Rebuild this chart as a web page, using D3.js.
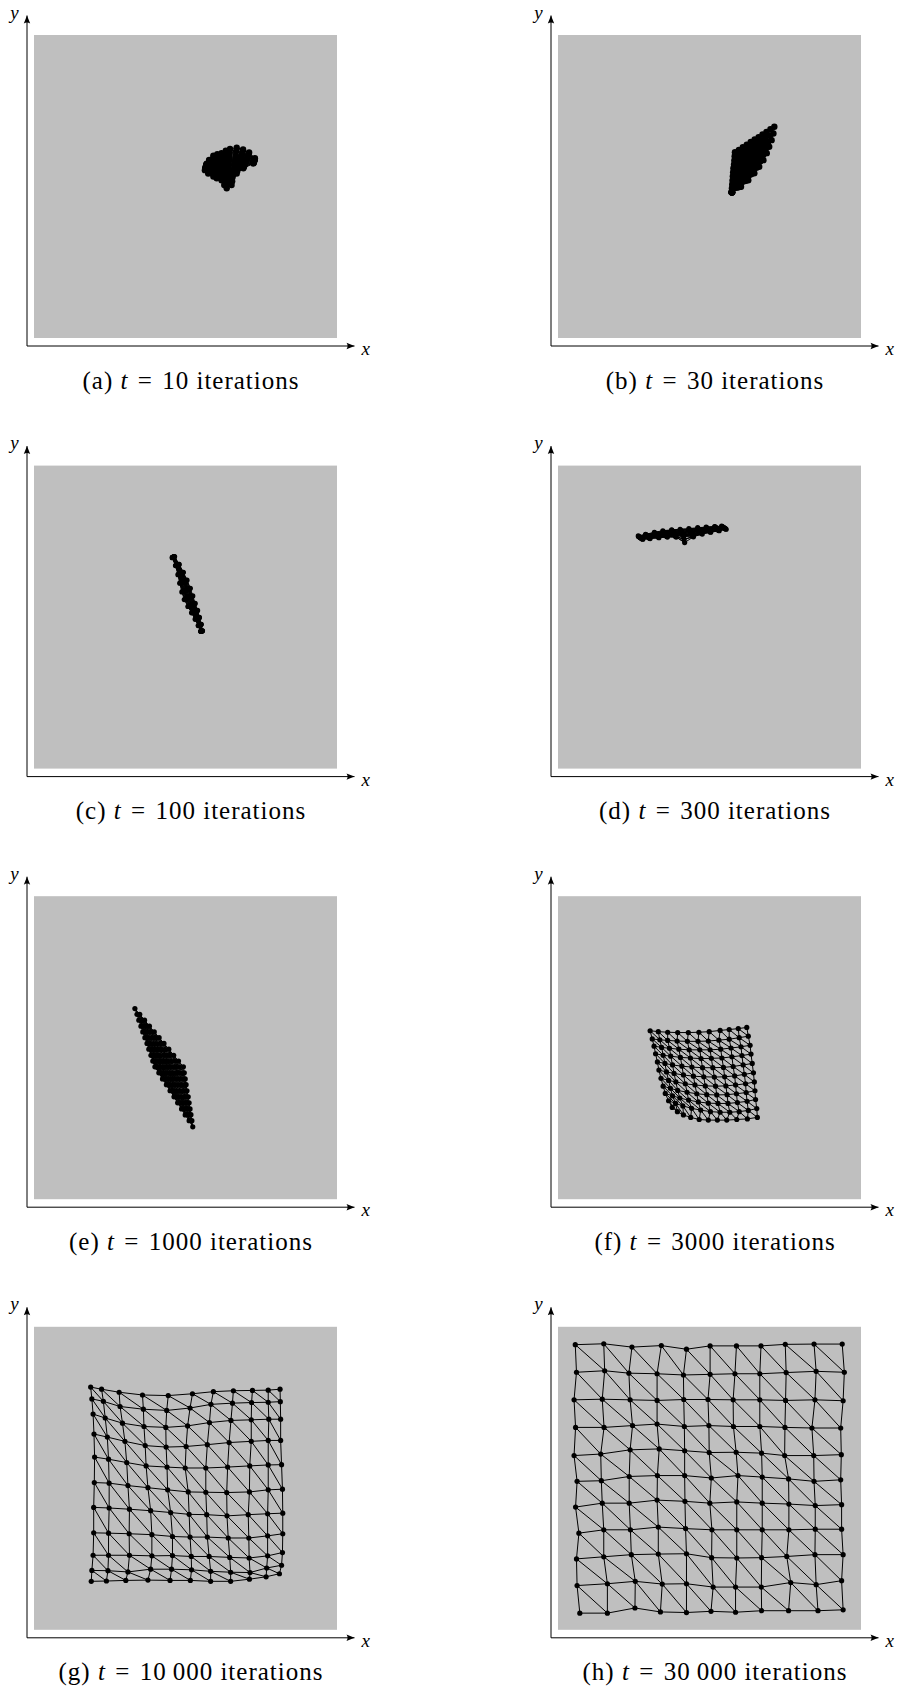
<!DOCTYPE html>
<html>
<head>
<meta charset="utf-8">
<script src="https://cdn.jsdelivr.net/npm/d3@7"></script>
<style>
  body { margin: 0; background: #fff; }
</style>
</head>
<body>
<svg id="fig" width="900" height="1693"></svg>
<script>
// Weight vectors of the 11 x 11 map after t iterations, in input-space units (0-100 on each axis).
// One entry per map row (top to bottom); each row is u0,v0, u1,v1, ... for its 11 nodes.
const nodesA = [
  [57.0,57.5, 57.8,58.8, 59.2,60.2, 60.5,60.7, 61.9,61.0, 63.3,61.8, 64.7,62.4, 66.9,62.8, 69.0,62.2, 71.0,61.2, 72.9,59.3],
  [56.9,57.3, 57.8,58.4, 59.2,59.5, 60.5,59.9, 61.9,60.1, 63.3,60.7, 64.6,61.1, 66.7,61.6, 68.8,61.4, 70.8,60.7, 72.9,59.1],
  [56.9,57.1, 57.7,57.9, 59.2,58.8, 60.5,59.1, 61.9,59.2, 63.2,59.5, 64.5,59.8, 66.6,60.3, 68.6,60.6, 70.6,60.2, 72.8,59.0],
  [56.8,56.9, 57.7,57.5, 59.2,58.1, 60.4,58.3, 61.9,58.3, 63.2,58.4, 64.4,58.5, 66.4,59.1, 68.4,59.8, 70.4,59.6, 72.8,58.8],
  [56.8,56.7, 57.7,57.0, 59.2,57.4, 60.4,57.5, 61.9,57.4, 63.1,57.3, 64.3,57.2, 66.2,57.9, 68.2,59.0, 70.2,59.1, 72.7,58.6],
  [56.7,56.5, 57.7,56.6, 59.2,56.8, 60.4,56.7, 61.9,56.6, 63.1,56.2, 64.2,55.9, 66.1,56.7, 68.0,58.3, 70.1,58.6, 72.7,58.5],
  [56.6,56.2, 57.6,56.1, 59.2,56.1, 60.4,55.9, 61.9,55.7, 63.0,55.0, 64.0,54.6, 65.9,55.4, 67.7,57.5, 69.9,58.1, 72.6,58.3],
  [56.6,56.0, 57.6,55.7, 59.2,55.4, 60.4,55.1, 61.9,54.8, 63.0,53.9, 63.9,53.3, 65.7,54.2, 67.5,56.7, 69.7,57.6, 72.6,58.1],
  [56.5,55.8, 57.6,55.2, 59.2,54.7, 60.3,54.3, 61.9,53.9, 62.9,52.8, 63.8,52.0, 65.5,53.0, 67.3,55.9, 69.5,57.1, 72.5,57.9],
  [56.5,55.6, 57.5,54.8, 59.2,54.0, 60.3,53.5, 61.9,53.0, 62.9,51.6, 63.7,50.7, 65.4,51.7, 67.1,55.1, 69.3,56.5, 72.5,57.8],
  [56.4,55.4, 57.5,54.3, 59.2,53.3, 60.3,52.7, 61.9,52.1, 62.8,50.5, 63.6,49.4, 65.2,50.5, 66.9,54.3, 69.1,56.0, 72.4,57.6]
];
const nodesB = [
  [58.4,61.3, 59.7,62.1, 61.0,63.0, 62.3,63.8, 63.6,64.7, 64.9,65.5, 66.2,66.3, 67.5,67.2, 68.8,68.0, 70.1,68.9, 71.4,69.7],
  [58.3,60.0, 59.6,60.8, 60.9,61.5, 62.1,62.3, 63.4,63.0, 64.7,63.8, 66.0,64.5, 67.3,65.3, 68.5,66.0, 69.8,66.8, 71.1,67.5],
  [58.2,58.6, 59.4,59.3, 60.7,59.9, 61.9,60.6, 63.1,61.3, 64.4,62.0, 65.6,62.6, 66.8,63.3, 68.0,64.0, 69.3,64.6, 70.5,65.3],
  [58.1,57.3, 59.3,57.9, 60.4,58.5, 61.6,59.0, 62.7,59.6, 63.9,60.2, 65.1,60.8, 66.2,61.4, 67.4,61.9, 68.5,62.5, 69.7,63.1],
  [57.9,56.0, 59.0,56.5, 60.1,57.0, 61.2,57.5, 62.3,58.0, 63.4,58.5, 64.5,59.0, 65.6,59.5, 66.7,60.0, 67.8,60.5, 68.9,61.0],
  [57.8,54.7, 58.8,55.1, 59.8,55.5, 60.8,55.9, 61.8,56.3, 62.8,56.7, 63.8,57.1, 64.8,57.5, 65.8,57.9, 66.8,58.3, 67.8,58.7],
  [57.7,53.4, 58.6,53.7, 59.4,54.0, 60.3,54.3, 61.2,54.6, 62.1,55.0, 62.9,55.3, 63.8,55.6, 64.7,55.9, 65.5,56.2, 66.4,56.5],
  [57.6,52.0, 58.3,52.2, 59.0,52.5, 59.8,52.7, 60.5,53.0, 61.2,53.2, 61.9,53.4, 62.6,53.7, 63.4,53.9, 64.1,54.2, 64.8,54.4],
  [57.5,50.7, 58.0,50.8, 58.6,51.0, 59.1,51.1, 59.6,51.3, 60.2,51.4, 60.7,51.5, 61.2,51.7, 61.7,51.8, 62.3,52.0, 62.8,52.1],
  [57.4,49.4, 57.7,49.5, 58.0,49.5, 58.3,49.6, 58.6,49.6, 58.9,49.7, 59.2,49.7, 59.5,49.8, 59.8,49.8, 60.1,49.9, 60.4,49.9],
  [57.3,48.1, 57.3,48.1, 57.3,48.1, 57.4,48.1, 57.4,48.1, 57.4,48.1, 57.4,48.1, 57.4,48.1, 57.5,48.1, 57.5,48.1, 57.5,48.1]
];
const nodesC = [
  [45.6,69.6, 46.7,67.0, 47.5,64.0, 48.1,61.2, 48.8,58.3, 49.6,55.8, 50.8,53.5, 52.0,51.4, 53.2,49.3, 54.2,47.2, 55.0,45.3],
  [45.7,69.7, 46.8,67.0, 47.7,64.1, 48.3,61.3, 49.1,58.5, 49.9,55.9, 51.0,53.6, 52.2,51.5, 53.3,49.4, 54.3,47.2, 55.1,45.3],
  [45.8,69.7, 46.9,67.1, 47.8,64.2, 48.6,61.4, 49.4,58.6, 50.2,56.1, 51.3,53.7, 52.4,51.6, 53.5,49.4, 54.4,47.3, 55.1,45.3],
  [45.8,69.7, 47.1,67.1, 48.0,64.3, 48.8,61.5, 49.6,58.7, 50.4,56.2, 51.5,53.8, 52.6,51.6, 53.6,49.5, 54.5,47.3, 55.2,45.4],
  [45.9,69.8, 47.2,67.2, 48.2,64.3, 49.1,61.6, 49.9,58.8, 50.7,56.3, 51.8,53.9, 52.8,51.7, 53.8,49.5, 54.6,47.4, 55.2,45.4],
  [46.0,69.8, 47.3,67.2, 48.4,64.4, 49.3,61.7, 50.2,58.9, 51.0,56.4, 52.0,54.0, 53.0,51.8, 53.9,49.6, 54.7,47.4, 55.3,45.4],
  [46.1,69.8, 47.4,67.2, 48.6,64.5, 49.5,61.8, 50.5,59.0, 51.3,56.5, 52.2,54.1, 53.2,51.9, 54.0,49.7, 54.8,47.4, 55.4,45.4],
  [46.2,69.9, 47.5,67.3, 48.8,64.5, 49.8,61.9, 50.8,59.1, 51.6,56.6, 52.5,54.2, 53.4,52.0, 54.2,49.7, 54.9,47.5, 55.4,45.4],
  [46.2,69.9, 47.7,67.3, 49.0,64.6, 50.0,62.0, 51.0,59.2, 51.8,56.7, 52.7,54.3, 53.6,52.0, 54.3,49.8, 55.0,47.5, 55.5,45.5],
  [46.3,69.9, 47.8,67.4, 49.1,64.7, 50.3,62.1, 51.3,59.3, 52.1,56.8, 53.0,54.4, 53.8,52.1, 54.5,49.8, 55.1,47.6, 55.5,45.5],
  [46.4,70.0, 47.9,67.4, 49.3,64.8, 50.5,62.2, 51.6,59.5, 52.4,57.0, 53.2,54.5, 54.0,52.2, 54.6,49.9, 55.2,47.6, 55.6,45.5]
];
const nodesD = [
  [26.5,76.8, 28.9,77.3, 31.8,78.0, 34.6,78.5, 37.5,78.8, 40.3,79.0, 43.2,79.2, 46.1,79.5, 48.9,79.7, 51.7,79.9, 54.0,80.0],
  [26.6,76.6, 29.0,77.2, 31.9,77.8, 34.7,78.2, 37.6,78.6, 40.4,78.7, 43.3,78.9, 46.2,79.2, 49.0,79.5, 51.8,79.8, 54.1,79.9],
  [26.8,76.5, 29.2,77.0, 32.1,77.6, 34.9,78.0, 37.8,78.3, 40.6,78.4, 43.5,78.6, 46.4,79.0, 49.2,79.3, 52.0,79.6, 54.3,79.8],
  [26.9,76.4, 29.3,76.9, 32.2,77.5, 35.0,77.8, 37.9,78.1, 40.7,78.1, 43.6,78.3, 46.5,78.8, 49.3,79.1, 52.1,79.5, 54.4,79.7],
  [27.1,76.3, 29.5,76.7, 32.4,77.3, 35.2,77.6, 38.1,77.8, 40.9,77.8, 43.8,78.1, 46.7,78.6, 49.5,79.0, 52.3,79.3, 54.6,79.6],
  [27.2,76.2, 29.6,76.6, 32.5,77.1, 35.3,77.4, 38.2,77.6, 41.0,77.5, 43.9,77.8, 46.8,78.4, 49.6,78.8, 52.4,79.2, 54.7,79.5],
  [27.4,76.1, 29.8,76.5, 32.7,76.9, 35.5,77.2, 38.4,77.4, 41.2,77.2, 44.1,77.5, 47.0,78.2, 49.8,78.6, 52.6,79.1, 54.9,79.4],
  [27.5,76.0, 29.9,76.3, 32.8,76.7, 35.6,77.0, 38.5,77.1, 41.3,76.9, 44.2,77.3, 47.1,78.0, 49.9,78.5, 52.7,78.9, 55.0,79.3],
  [27.7,75.9, 30.1,76.2, 33.0,76.6, 35.8,76.8, 38.7,76.9, 41.5,76.6, 44.4,77.0, 47.3,77.8, 50.1,78.3, 52.9,78.8, 55.2,79.2],
  [27.8,75.8, 30.2,76.0, 33.1,76.4, 35.9,76.6, 38.8,76.6, 41.6,75.6, 44.5,76.7, 47.4,77.6, 50.2,78.1, 53.0,78.6, 55.3,79.1],
  [28.0,75.7, 30.4,75.9, 33.3,76.2, 36.1,76.4, 39.0,76.4, 41.8,74.6, 44.7,76.5, 47.6,77.4, 50.4,78.0, 53.2,78.5, 55.5,79.0]
];
const nodesE = [
  [33.3,62.9, 34.9,61.0, 36.5,59.1, 38.1,57.1, 39.7,55.2, 41.3,53.3, 42.9,51.4, 44.5,49.5, 46.1,47.5, 47.7,45.6, 49.3,43.7],
  [34.0,61.0, 35.6,59.1, 37.1,57.1, 38.7,55.2, 40.2,53.3, 41.8,51.4, 43.4,49.4, 44.9,47.5, 46.5,45.6, 48.0,43.6, 49.6,41.7],
  [34.6,59.1, 36.1,57.2, 37.7,55.2, 39.2,53.3, 40.7,51.3, 42.3,49.4, 43.8,47.5, 45.3,45.5, 46.8,43.6, 48.4,41.6, 49.9,39.7],
  [35.3,57.1, 36.8,55.2, 38.3,53.2, 39.8,51.3, 41.3,49.4, 42.8,47.5, 44.2,45.5, 45.7,43.6, 47.2,41.7, 48.7,39.7, 50.2,37.8],
  [35.9,55.2, 37.4,53.3, 38.8,51.3, 40.3,49.4, 41.7,47.4, 43.2,45.5, 44.7,43.6, 46.1,41.6, 47.6,39.7, 49.0,37.7, 50.5,35.8],
  [36.6,53.3, 38.0,51.4, 39.5,49.4, 40.9,47.5, 42.3,45.5, 43.8,43.6, 45.2,41.6, 46.6,39.7, 48.0,37.7, 49.5,35.8, 50.9,33.8],
  [37.3,51.4, 38.7,49.4, 40.1,47.5, 41.5,45.5, 42.9,43.6, 44.3,41.6, 45.6,39.6, 47.0,37.7, 48.4,35.7, 49.8,33.8, 51.2,31.8],
  [37.9,49.5, 39.3,47.5, 40.6,45.6, 42.0,43.6, 43.3,41.6, 44.7,39.7, 46.1,37.7, 47.4,35.7, 48.8,33.7, 50.1,31.8, 51.5,29.8],
  [38.6,47.5, 39.9,45.5, 41.2,43.6, 42.6,41.6, 43.9,39.7, 45.2,37.7, 46.5,35.7, 47.8,33.8, 49.2,31.8, 50.5,29.9, 51.8,27.9],
  [39.2,45.6, 40.5,43.6, 41.8,41.7, 43.1,39.7, 44.4,37.7, 45.7,35.8, 46.9,33.8, 48.2,31.8, 49.5,29.8, 50.8,27.9, 52.1,25.9],
  [39.9,43.7, 41.2,41.7, 42.4,39.7, 43.7,37.8, 44.9,35.8, 46.2,33.8, 47.4,31.8, 48.7,29.8, 49.9,27.8, 51.2,25.9, 52.4,23.9]
];
const nodesF = [
  [30.4,55.6, 33.1,55.3, 36.2,55.1, 39.5,55.0, 43.0,55.0, 46.5,55.1, 49.9,55.3, 53.5,55.7, 56.5,56.0, 59.5,56.3, 62.3,56.7],
  [31.1,52.9, 33.6,52.6, 36.2,52.4, 39.3,52.2, 42.7,52.1, 46.2,52.1, 49.6,52.2, 53.1,52.5, 56.5,52.8, 59.8,53.3, 62.8,53.8],
  [31.7,50.5, 34.2,50.1, 36.8,49.8, 39.9,49.5, 43.3,49.3, 46.8,49.3, 50.2,49.3, 53.7,49.5, 57.1,49.9, 60.4,50.3, 63.4,50.8],
  [32.2,48.0, 34.7,47.5, 37.2,47.2, 40.4,46.8, 43.7,46.6, 47.2,46.4, 50.6,46.5, 54.1,46.6, 57.4,47.0, 60.7,47.4, 63.7,47.9],
  [32.8,45.3, 35.3,44.8, 37.8,44.3, 40.9,43.9, 44.2,43.6, 47.7,43.4, 51.1,43.4, 54.6,43.5, 57.8,43.8, 61.1,44.3, 64.1,44.8],
  [33.3,42.6, 35.8,42.0, 38.3,41.5, 41.4,41.0, 44.7,40.6, 48.1,40.4, 51.6,40.3, 55.0,40.4, 58.3,40.7, 61.5,41.2, 64.5,41.7],
  [34.0,39.9, 36.5,39.2, 38.9,38.7, 42.0,38.1, 45.2,37.7, 48.6,37.4, 52.0,37.3, 55.4,37.4, 58.6,37.7, 61.9,38.1, 64.8,38.7],
  [34.7,37.3, 37.1,36.6, 39.5,35.9, 42.6,35.3, 45.8,34.8, 49.1,34.5, 52.4,34.4, 55.8,34.5, 58.9,34.8, 62.1,35.2, 65.0,35.8],
  [35.4,34.9, 37.8,34.1, 40.2,33.4, 43.1,32.7, 46.3,32.1, 49.6,31.7, 52.8,31.6, 56.1,31.6, 59.2,31.9, 62.4,32.3, 65.2,32.9],
  [36.5,32.5, 38.8,31.6, 41.2,30.8, 44.1,30.0, 47.1,29.4, 50.3,28.9, 53.5,28.7, 56.7,28.7, 59.8,28.9, 62.8,29.3, 65.6,29.9],
  [37.7,30.3, 39.4,28.9, 41.4,27.8, 43.8,27.0, 46.6,26.3, 49.6,26.1, 52.6,26.1, 55.7,26.1, 59.0,26.3, 62.5,26.5, 65.8,27.0]
];
const nodesG = [
  [18.7,80.1, 22.3,79.4, 28.1,78.4, 35.8,77.5, 44.3,77.3, 52.3,77.9, 59.2,78.6, 65.8,78.9, 72.1,79.0, 77.3,79.1, 81.2,79.4],
  [19.1,76.2, 22.9,75.4, 28.4,73.7, 36.1,72.8, 43.8,72.4, 51.5,73.2, 58.4,74.4, 65.5,74.8, 71.8,75.0, 77.3,75.1, 81.3,75.3],
  [19.5,71.2, 23.5,69.9, 29.2,68.2, 36.3,67.1, 43.5,66.8, 50.7,67.3, 57.9,68.4, 65.0,69.1, 71.7,69.3, 77.5,69.5, 81.4,69.5],
  [19.8,64.6, 24.2,63.6, 30.0,62.2, 36.7,60.8, 43.6,60.3, 50.2,60.5, 57.2,61.1, 64.4,61.8, 71.7,62.2, 77.3,62.5, 81.4,62.5],
  [20.0,57.0, 24.6,56.3, 30.6,55.2, 37.0,54.1, 43.9,53.7, 49.9,53.4, 56.7,53.4, 63.9,53.7, 71.2,54.1, 77.3,54.4, 81.7,54.5],
  [19.9,48.6, 24.8,48.4, 31.0,47.6, 37.6,46.9, 44.1,46.2, 50.9,45.5, 56.7,45.4, 63.6,45.3, 71.1,45.5, 77.3,46.2, 82.0,46.4],
  [19.7,40.4, 24.8,40.2, 31.5,39.8, 38.5,39.3, 45.1,38.7, 51.2,38.1, 57.0,38.0, 63.7,37.6, 70.7,38.0, 77.1,38.3, 82.1,38.5],
  [19.7,32.0, 24.6,31.9, 31.4,31.7, 38.9,31.4, 45.7,30.8, 51.5,30.6, 57.2,30.6, 64.1,30.3, 70.9,30.3, 77.1,31.0, 82.1,31.7],
  [19.5,24.6, 24.6,24.6, 31.5,24.6, 38.9,24.4, 45.7,24.5, 51.9,24.2, 57.8,24.2, 64.6,23.9, 71.0,23.7, 77.1,24.4, 82.0,25.5],
  [19.1,19.6, 24.4,19.5, 31.0,19.1, 38.5,20.0, 45.4,20.0, 52.0,19.8, 58.3,19.3, 64.9,19.0, 71.3,18.9, 76.8,20.4, 81.7,21.3],
  [18.9,16.0, 23.9,16.1, 30.3,16.3, 37.6,16.4, 44.9,16.3, 51.6,16.3, 58.3,16.0, 64.9,16.0, 71.1,16.7, 76.6,17.5, 81.0,18.5]
];
const nodesH = [
  [5.7,94.1, 15.1,94.4, 24.4,93.3, 34.1,93.8, 42.4,92.6, 50.2,93.7, 58.9,93.7, 67.0,93.7, 75.0,94.2, 84.5,94.3, 93.8,94.3],
  [6.1,85.0, 15.4,85.5, 23.4,84.7, 32.7,84.5, 41.4,84.1, 50.2,84.3, 58.4,84.5, 66.6,84.5, 75.3,84.9, 85.2,85.3, 94.5,85.0],
  [5.3,75.9, 14.6,76.1, 23.8,75.9, 32.7,75.7, 41.5,76.0, 49.5,76.0, 57.8,75.9, 66.6,75.9, 75.1,75.7, 84.8,75.9, 94.1,75.6],
  [5.8,66.8, 15.2,66.8, 24.6,67.4, 32.7,67.9, 41.7,67.1, 49.8,67.4, 57.9,67.1, 66.6,67.1, 74.9,66.8, 83.8,66.6, 93.3,66.6],
  [5.3,57.5, 14.1,58.0, 23.8,59.4, 33.4,59.7, 41.8,59.1, 49.9,58.5, 58.8,58.6, 67.2,58.3, 74.8,57.5, 84.4,57.5, 93.5,57.8],
  [6.3,49.0, 14.3,49.2, 23.5,50.6, 32.8,50.9, 41.8,50.9, 50.6,50.1, 59.4,50.9, 67.4,50.4, 76.1,49.8, 84.5,49.0, 93.3,49.5],
  [5.8,40.5, 14.6,41.8, 23.5,41.8, 32.7,42.8, 41.9,42.4, 50.1,41.8, 59.0,42.2, 67.4,41.8, 76.2,41.5, 84.9,41.0, 93.6,41.3],
  [6.9,31.9, 15.1,33.0, 23.9,33.0, 33.1,33.9, 42.1,33.4, 50.8,33.0, 59.0,33.0, 67.4,33.0, 76.2,33.0, 84.9,33.2, 93.6,33.2],
  [6.1,23.4, 15.1,24.1, 24.2,24.8, 33.1,25.0, 42.4,25.1, 50.7,23.8, 59.0,23.7, 67.2,23.8, 75.5,24.2, 84.8,24.8, 94.1,24.8],
  [6.3,14.6, 16.3,15.2, 25.5,16.0, 34.4,15.1, 42.4,15.2, 51.2,14.1, 58.6,14.1, 67.1,14.1, 76.8,15.6, 85.2,14.9, 93.6,16.2],
  [7.2,5.5, 16.3,5.5, 25.4,7.2, 33.8,5.9, 42.4,5.7, 50.5,6.1, 58.6,5.8, 67.2,6.3, 76.1,6.3, 85.8,6.3, 94.1,6.6]
];

const panelLetters = ["a", "b", "c", "d", "e", "f", "g", "h"];
const iterationLabels = ["10", "30", "100", "300", "1000", "3000", "10\u2009000", "30\u2009000"];
const panelNodes = [nodesA, nodesB, nodesC, nodesD, nodesE, nodesF, nodesG, nodesH];

// ---- layout ----
const FONT = "'Liberation Serif', 'Times New Roman', 'DejaVu Serif', serif";
const BOX = 303;                 // side of the shaded input square
const COL_LEFT = [34, 558];      // left edge of the square in each column
const ROW_TOP = 35, ROW_STEP = 430.6;
const AXIS_GAP = 7.5;            // axes sit just outside the square
const AXIS_OVER = [17, 20];      // axis overshoot past the square (x, y)
// the two earliest maps are packed so tightly that their nodes merge into one solid patch
const NODE_R = [3.2, 3.2, 2.6, 2.6, 2.6, 2.6, 2.6, 2.6];

const svg = d3.select("#fig");

function arrowHead(g, tx, ty, dir) {
  // tikz-style arrow tip; dir "right" or "up"
  const L = 8, W = 3.2, N = 5.8;
  const d = dir === "right"
    ? `M${tx},${ty}L${tx - L},${ty - W}Q${tx - N},${ty} ${tx - L},${ty + W}Z`
    : `M${tx},${ty}L${tx - W},${ty + L}Q${tx},${ty + N} ${tx + W},${ty + L}Z`;
  g.append("path").attr("d", d).attr("fill", "#000");
}

panelNodes.forEach((rows, i) => {
  const col = i % 2, row = Math.floor(i / 2);
  const left = COL_LEFT[col], top = ROW_TOP + row * ROW_STEP;

  const x = d3.scaleLinear().domain([0, 100]).range([left, left + BOX]);
  const y = d3.scaleLinear().domain([0, 100]).range([top + BOX, top]);

  const g = svg.append("g").attr("class", "panel");

  // input space
  g.append("rect")
    .attr("x", x(0)).attr("y", y(100))
    .attr("width", x(100) - x(0)).attr("height", y(0) - y(100))
    .attr("fill", "#bfbfbf");

  // axes (no ticks), drawn with extended copies of the scales
  const ux = 100 / BOX;
  const xAxisScale = x.copy().domain([-AXIS_GAP * ux, 100 + AXIS_OVER[0] * ux])
    .range([x(-AXIS_GAP * ux), x(100 + AXIS_OVER[0] * ux)]);
  const yAxisScale = y.copy().domain([-AXIS_GAP * ux, 100 + AXIS_OVER[1] * ux])
    .range([y(-AXIS_GAP * ux), y(100 + AXIS_OVER[1] * ux)]);
  const ox = x(-AXIS_GAP * ux), oy = y(-AXIS_GAP * ux);

  const ax = g.append("g").attr("transform", `translate(0,${oy})`)
    .call(d3.axisBottom(xAxisScale).tickValues([]).tickSizeOuter(0));
  const ay = g.append("g").attr("transform", `translate(${ox},0)`)
    .call(d3.axisLeft(yAxisScale).tickValues([]).tickSizeOuter(0));
  [ax, ay].forEach(a => a.select(".domain").attr("stroke", "#000").attr("stroke-width", 1));

  const xTip = xAxisScale.range()[1] + 0.5, yTip = yAxisScale.range()[1] + 0.5;
  arrowHead(g, xTip, oy + 0.5, "right");
  arrowHead(g, ox + 0.5, yTip, "up");

  g.append("text").attr("x", xTip + 7).attr("y", oy + 9.5)
    .attr("font-family", FONT).attr("font-size", 19).attr("font-style", "italic").text("x");
  g.append("text").attr("x", ox - 12).attr("y", yTip + 3).attr("text-anchor", "middle")
    .attr("font-family", FONT).attr("font-size", 19).attr("font-style", "italic").text("y");

  // map nodes and lattice links (right, down, down-right)
  const pts = rows.map(r => d3.range(r.length / 2).map(k => [r[2 * k], r[2 * k + 1]]));
  const n = pts.length, m = pts[0].length;
  const path = d3.path();
  const seg = (a, b) => { path.moveTo(x(a[0]), y(a[1])); path.lineTo(x(b[0]), y(b[1])); };
  for (let r = 0; r < n; r++) {
    for (let c = 0; c < m; c++) {
      if (c + 1 < m) seg(pts[r][c], pts[r][c + 1]);
      if (r + 1 < n) seg(pts[r][c], pts[r + 1][c]);
      if (r + 1 < n && c + 1 < m) seg(pts[r][c], pts[r + 1][c + 1]);
    }
  }
  g.append("path").attr("d", path.toString())
    .attr("fill", "none").attr("stroke", "#000").attr("stroke-width", 1);

  g.selectAll("circle.node").data(pts.flat()).join("circle")
    .attr("class", "node")
    .attr("cx", d => x(d[0])).attr("cy", d => y(d[1])).attr("r", NODE_R[i])
    .attr("fill", "#000");

  // caption
  const cx = (ox - 17 + xTip + 18) / 2;
  const cap = g.append("text").attr("x", cx).attr("y", top + BOX + 50.5)
    .attr("text-anchor", "middle").attr("font-family", FONT)
    .attr("font-size", 25).attr("letter-spacing", 1.0);
  cap.append("tspan").text(`(${panelLetters[i]}) `);
  cap.append("tspan").attr("font-style", "italic").text("t");
  cap.append("tspan").text(`\u2004=\u2004${iterationLabels[i]} iterations`);
});
</script>
</body>
</html>
